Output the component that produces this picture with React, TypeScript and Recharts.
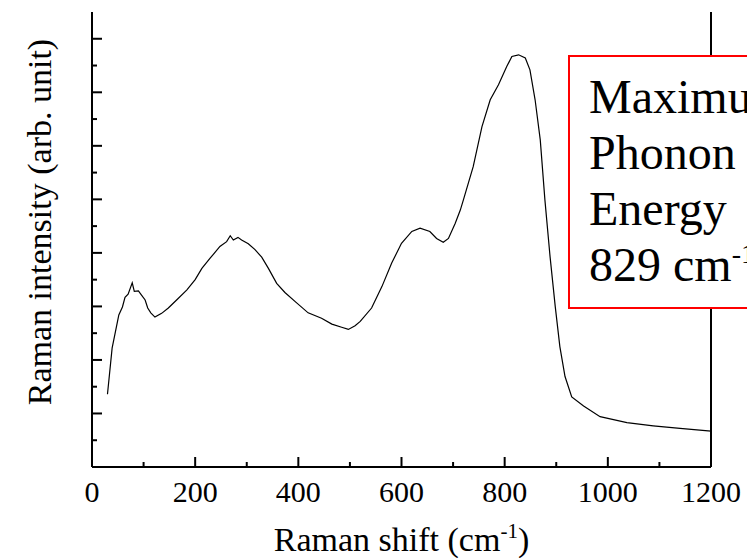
import { LineChart, Line, XAxis, YAxis, Label } from "recharts";

// Raman spectrum
const shift = [
  30, 39, 48, 52, 59, 64, 70, 78, 82, 90, 96, 103, 108, 114, 122, 135, 148,
  164, 184, 200, 213, 229, 248, 261, 268, 274, 283, 290, 303, 316, 329, 342,
  358, 374, 394, 419, 445, 465, 484, 497, 510, 520, 542, 562, 581, 600, 620,
  636, 655, 668, 681, 691, 704, 714, 720, 739, 756, 772, 788, 804, 814, 827,
  840, 849, 859, 869, 878, 888, 898, 907, 917, 930, 953, 985, 1037, 1088,
  1140, 1200,
];
const intensity = [
  1.36, 2.22, 2.65, 2.84, 2.99, 3.17, 3.23, 3.44, 3.28, 3.29, 3.21, 3.12,
  2.97, 2.88, 2.8, 2.87, 2.97, 3.12, 3.31, 3.5, 3.71, 3.9, 4.12, 4.21, 4.32,
  4.24, 4.29, 4.24, 4.17, 4.06, 3.92, 3.71, 3.43, 3.26, 3.09, 2.88, 2.78,
  2.67, 2.61, 2.57, 2.64, 2.72, 2.97, 3.37, 3.81, 4.18, 4.4, 4.46, 4.4, 4.27,
  4.2, 4.27, 4.55, 4.8, 4.99, 5.61, 6.36, 6.86, 7.14, 7.48, 7.67, 7.7, 7.64,
  7.42, 6.86, 6.11, 4.99, 3.93, 3.0, 2.25, 1.69, 1.31, 1.14, 0.94, 0.83, 0.77,
  0.72, 0.67,
];

const xTicks = [0, 100, 200, 300, 400, 500, 600, 700, 800, 900, 1000, 1100, 1200];
const yTicks = [0, 0.5, 1, 1.5, 2, 2.5, 3, 3.5, 4, 4.5, 5, 5.5, 6, 6.5, 7, 7.5, 8];
const boxLines = ["Maximum", "Phonon", "Energy"];
const peakShift = 829;

const data = shift.map((s, i) => ({ shift: s, intensity: intensity[i] }));

const serif = "'Liberation Serif', 'Times New Roman', serif";

function XTick(props: any) {
  const { x, y, payload } = props;
  const major = payload.value % 200 === 0;
  return (
    <g>
      <line x1={x} x2={x} y1={y} y2={y - (major ? 10 : 5)} stroke="#000" strokeWidth={2} />
      {major && (
        <text x={x} y={y + 35} textAnchor="middle" fontSize={30} fontFamily={serif} fill="#000">
          {payload.value}
        </text>
      )}
    </g>
  );
}

function LeftTick(props: any) {
  const { x, y, payload } = props;
  const len = payload.value % 1 === 0 ? 10 : 5;
  return <line x1={x} x2={x + len} y1={y} y2={y} stroke="#000" strokeWidth={2} />;
}

function RightTick(props: any) {
  const { x, y, payload } = props;
  const len = payload.value % 1 === 0 ? 10 : 5;
  return <line x1={x} x2={x - len} y1={y} y2={y} stroke="#000" strokeWidth={2} />;
}

export default function App() {
  return (
    <div
      style={{
        position: "absolute",
        left: 0,
        top: 0,
        width: 747,
        height: 558,
        overflow: "hidden",
        background: "#fff",
      }}
    >
      <LineChart
        width={747}
        height={558}
        data={data}
        margin={{ top: 12, right: 35, bottom: 90, left: 91 }}
      >
        <XAxis
          dataKey="shift"
          type="number"
          domain={[0, 1200]}
          ticks={xTicks}
          interval={0}
          height={1}
          tickSize={0}
          tickMargin={0}
          tickLine={false}
          tick={(p: any) => <XTick {...p} />}
          axisLine={{ stroke: "#000", strokeWidth: 2 }}
        >
          <Label
            content={({ viewBox }: any) => (
              <text
                x={viewBox.x + viewBox.width / 2}
                y={viewBox.y + 84}
                textAnchor="middle"
                fontSize={34}
                fontFamily={serif}
                fill="#000"
              >
                Raman shift (cm
                <tspan dy={-13} fontSize={21}>-1</tspan>
                <tspan dy={13} fontSize={34}>)</tspan>
              </text>
            )}
          />
        </XAxis>
        <YAxis
          yAxisId="left"
          type="number"
          domain={[0, 8.5]}
          ticks={yTicks}
          interval={0}
          width={1}
          tickSize={0}
          tickMargin={0}
          tickLine={false}
          tick={(p: any) => <LeftTick {...p} />}
          axisLine={{ stroke: "#000", strokeWidth: 2 }}
        >
          <Label
            content={() => (
              <text
                x={51}
                y={222}
                transform="rotate(-90, 51, 222)"
                textAnchor="middle"
                fontSize={34}
                fontFamily={serif}
                fill="#000"
              >
                Raman intensity (arb. unit)
              </text>
            )}
          />
        </YAxis>
        <YAxis
          yAxisId="right"
          orientation="right"
          type="number"
          domain={[0, 8.5]}
          ticks={yTicks}
          interval={0}
          width={1}
          tickSize={0}
          tickMargin={0}
          tickLine={false}
          tick={(p: any) => <RightTick {...p} />}
          axisLine={{ stroke: "#000", strokeWidth: 2 }}
        />
        <Line
          yAxisId="left"
          type="linear"
          dataKey="intensity"
          stroke="#000"
          strokeWidth={1.2}
          dot={false}
          isAnimationActive={false}
        />
      </LineChart>
      <svg
        width={747}
        height={558}
        style={{ position: "absolute", left: 0, top: 0, pointerEvents: "none" }}
      >
        <rect x={569} y={56} width={220} height={252} fill="#fff" stroke="#ff0000" strokeWidth={2} />
        {boxLines.map((t, i) => (
          <text key={t} x={589} y={113 + i * 56} fontSize={48} fontFamily={serif} fill="#000">
            {t}
          </text>
        ))}
        <text x={589} y={113 + 3 * 56} fontSize={48} fontFamily={serif} fill="#000">
          {peakShift} cm
          <tspan dy={-18} fontSize={28}>-1</tspan>
        </text>
      </svg>
    </div>
  );
}
